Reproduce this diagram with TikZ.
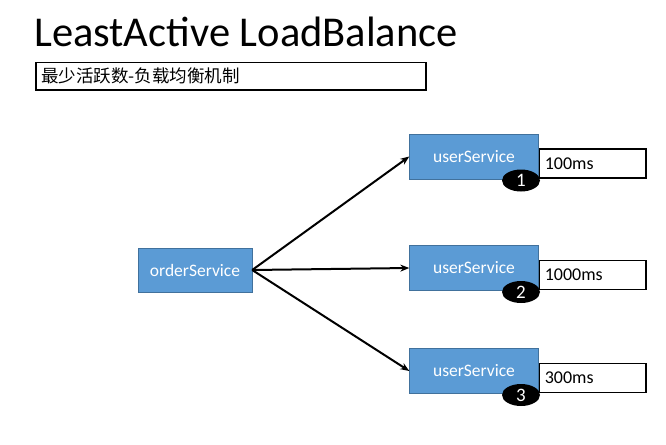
\documentclass[tikz,border=0pt]{standalone}
\usepackage{fontspec}
\setmainfont{Carlito}
\newfontfamily\cjk{Noto Sans CJK SC}
\usetikzlibrary{arrows.meta,shapes.geometric}
\definecolor{bl}{HTML}{5B9BD5}
\definecolor{bd}{HTML}{41719C}
\begin{document}
\begin{tikzpicture}[x=1pt,y=-1pt,
  svc/.style={draw=bd,fill=bl,text=white,font=\fontsize{17.5}{20}\selectfont,inner sep=0pt},
  tm/.style={draw=black,line width=1.5pt,fill=white,minimum width=107pt,minimum height=29pt,anchor=west,font=\fontsize{18}{20}\selectfont,inner sep=6pt,text width=95pt,align=left},
  num/.style={ellipse,fill=black,text=white,minimum width=38pt,minimum height=22pt,inner sep=0pt,font=\fontsize{19}{20}\selectfont},
  arr/.style={-{Stealth[length=9pt,width=7pt]},line width=2pt}]
\useasboundingbox (0,0) rectangle (666,444);
\node[anchor=base west,inner sep=0pt,font=\fontsize{42.5}{45}\selectfont] (title) at (34,47) {LeastActive LoadBalance};
\node[draw=black,line width=1.5pt,anchor=north west,minimum width=390pt,minimum height=27pt,inner sep=0pt,text width=385pt,align=left,font=\cjk\fontsize{17.5}{20}\selectfont] (sub) at (35,62) {\hspace*{3pt}最少活跃数-负载均衡机制};
\node[svc,minimum width=114pt,minimum height=44pt] (o) at (195,270) {orderService};
\foreach \i/\y/\t in {1/156.5/100ms,2/268/1000ms,3/371/300ms}{
  \node[tm] (t\i) at (538,\y+7) {\t};
  \node[svc,minimum width=129pt,minimum height=45pt] (u\i) at (474,\y) {userService};
  \node[num] (n\i) at (521,\y+24) {\i};
}
\draw[arr] (o.east) -- (u1.west);
\draw[arr] (o.east) -- (u2.west);
\draw[arr] (o.east) -- (u3.west);
\end{tikzpicture}
\end{document}
